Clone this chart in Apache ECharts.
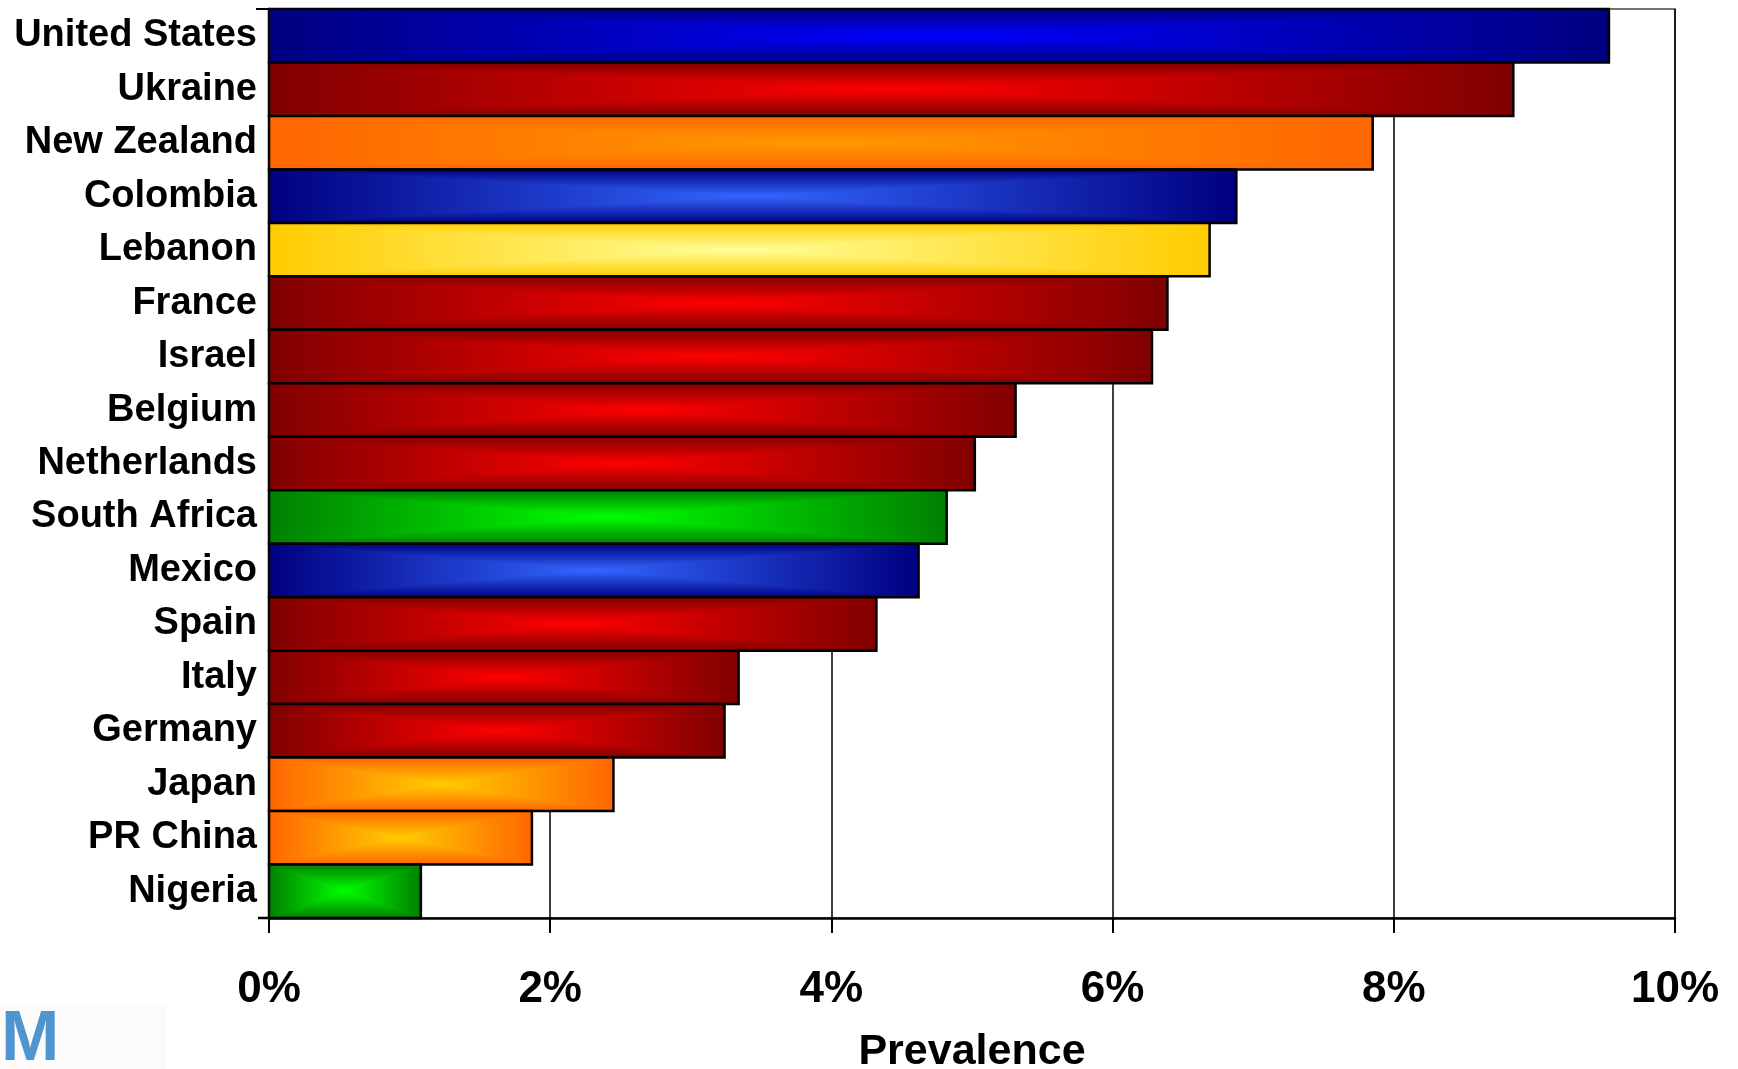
<!DOCTYPE html>
<html>
<head>
<meta charset="utf-8">
<script src="https://cdn.jsdelivr.net/npm/echarts@6/dist/echarts.min.js"></script>
<style>
  html, body { margin: 0; padding: 0; background: #ffffff; }
  #chart { width: 1738px; height: 1069px; }
</style>
</head>
<body>
<div id="chart"></div>
<script>
// Countries, top to bottom
const categories = [
  'United States', 'Ukraine', 'New Zealand', 'Colombia', 'Lebanon',
  'France', 'Israel', 'Belgium', 'Netherlands', 'South Africa',
  'Mexico', 'Spain', 'Italy', 'Germany', 'Japan', 'PR China', 'Nigeria'
];

// Prevalence, percent
const prevalence = [
  9.53, 8.85, 7.85, 6.88, 6.69,
  6.39, 6.28, 5.31, 5.02, 4.82,
  4.62, 4.32, 3.34, 3.24, 2.45, 1.87, 1.08
];

// Axis ticks, percent
const xTicks = [0, 2, 4, 6, 8, 10];

// Fill family of each bar
const barTones = [
  'blue', 'red', 'orange', 'steel', 'yellow',
  'red', 'red', 'red', 'red', 'green',
  'steel', 'red', 'red', 'red', 'amber', 'amber', 'green'
];

// [edge colour, centre colour] for each fill family
const toneColors = {
  blue:   ['#000080', '#0000ff'],
  red:    ['#800000', '#ff0000'],
  orange: ['#ff6600', '#ff9900'],
  steel:  ['#000080', '#3366ff'],
  yellow: ['#ffcc00', '#ffff99'],
  green:  ['#008000', '#00ff00'],
  amber:  ['#ff6600', '#ffcc00']
};

const FONT = '"Liberation Sans", Arial, Helvetica, sans-serif';
const G = echarts.graphic;

// Rectangular "from centre" shading: horizontal ramp underneath,
// top and bottom wedges carry the vertical ramp.
function renderBar(params, api) {
  const idx = api.value(1);
  const v = api.value(0);
  const start = api.coord([0, idx]);
  const end = api.coord([v, idx]);
  const h = api.size([0, 1])[1];
  const x0 = start[0], x1 = end[0];
  const y0 = start[1] - h / 2, y1 = start[1] + h / 2;
  const cx = (x0 + x1) / 2, cy = (y0 + y1) / 2;
  const [edge, mid] = toneColors[barTones[idx]];
  return {
    type: 'group',
    children: [
      {
        type: 'rect',
        shape: { x: x0, y: y0, width: x1 - x0, height: h },
        style: {
          fill: new G.LinearGradient(0, 0, 1, 0, [
            { offset: 0, color: edge },
            { offset: 0.5, color: mid },
            { offset: 1, color: edge }
          ])
        }
      },
      {
        type: 'polygon',
        shape: { points: [[x0, y0], [x1, y0], [cx, cy]] },
        style: {
          fill: new G.LinearGradient(0, 0, 0, 1, [
            { offset: 0, color: edge },
            { offset: 1, color: mid }
          ])
        }
      },
      {
        type: 'polygon',
        shape: { points: [[x0, y1], [x1, y1], [cx, cy]] },
        style: {
          fill: new G.LinearGradient(0, 0, 0, 1, [
            { offset: 0, color: mid },
            { offset: 1, color: edge }
          ])
        }
      },
      {
        type: 'rect',
        shape: { x: x0, y: y0, width: x1 - x0, height: h },
        style: { fill: 'none', stroke: '#000000', lineWidth: 2.5 }
      }
    ]
  };
}

const GRID = { left: 269, right: 63, top: 9, bottom: 151 };
const chart = echarts.init(document.getElementById('chart'), null, { renderer: 'canvas' });

chart.setOption({
  backgroundColor: '#ffffff',
  animation: false,
  grid: {
    left: GRID.left, right: GRID.right, top: GRID.top, bottom: GRID.bottom,
    containLabel: false,
    outerBoundsMode: 'none',
    show: true, borderColor: '#444444', borderWidth: 1.5, backgroundColor: 'transparent'
  },
  xAxis: {
    type: 'value',
    min: xTicks[0],
    max: xTicks[xTicks.length - 1],
    interval: xTicks[1] - xTicks[0],
    name: 'Prevalence',
    nameLocation: 'middle',
    nameGap: 113,
    nameTextStyle: { fontFamily: FONT, fontWeight: 'bold', fontSize: 43, color: '#000' },
    axisLine: { show: true, lineStyle: { color: '#000', width: 2.5 } },
    axisTick: { show: true, inside: false, length: 15, lineStyle: { color: '#000', width: 2 } },
    axisLabel: {
      formatter: '{value}%', margin: 50,
      fontFamily: FONT, fontWeight: 'bold', fontSize: 44, color: '#000'
    },
    splitLine: { show: true, lineStyle: { color: '#000', width: 1.5 } }
  },
  yAxis: {
    type: 'category',
    data: categories,
    inverse: true,
    axisLine: { show: true, lineStyle: { color: '#000', width: 2.5 } },
    axisTick: { show: false },
    axisLabel: {
      interval: 0,
      margin: 12,
      fontFamily: FONT, fontWeight: 'bold', fontSize: 38, color: '#000'
    },
    splitLine: { show: false }
  },
  graphic: [
    {
      type: 'rect', left: 0, top: 1003,
      shape: { width: 166, height: 66 },
      style: { fill: '#fbfbfb' }, z: 0
    },
    {
      type: 'text', left: 1, top: 1006,
      style: { text: 'M', fill: '#4f95cf', font: 'bold 70px "Liberation Sans", Arial, sans-serif' }
    },
    {
      type: 'line',
      shape: { x1: GRID.left - 13, y1: GRID.top, x2: GRID.left, y2: GRID.top },
      style: { stroke: '#000', lineWidth: 2 }
    },
    {
      type: 'line',
      shape: { x1: GRID.left - 11, y1: 1069 - GRID.bottom, x2: GRID.left, y2: 1069 - GRID.bottom },
      style: { stroke: '#000', lineWidth: 2.5 }
    }
  ],
  series: [
    {
      type: 'custom',
      renderItem: renderBar,
      encode: { x: 0, y: 1 },
      data: prevalence.map((v, i) => [v, i]),
      z: 3
    }
  ]
});
</script>
</body>
</html>
